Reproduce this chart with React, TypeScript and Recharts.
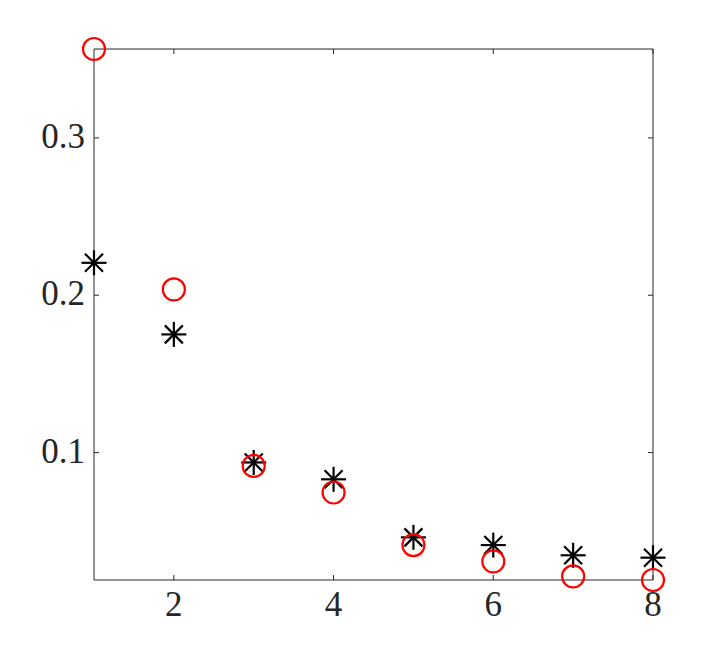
import React from "react";
import { ScatterChart, Scatter, XAxis, YAxis } from "recharts";

const xValues = [1, 2, 3, 4, 5, 6, 7, 8];
const circleValues = [0.3565, 0.2037, 0.0915, 0.0746, 0.0412, 0.0308, 0.0213, 0.019];
const starValues = [0.2206, 0.1751, 0.0937, 0.083, 0.0461, 0.0412, 0.0347, 0.0332];
const xTicks = [2, 4, 6, 8];
const yTicks = [0.1, 0.2, 0.3];

const circleData = xValues.map((x, i) => ({ x, y: circleValues[i] }));
const starData = xValues.map((x, i) => ({ x, y: starValues[i] }));

const allY = [...circleValues, ...starValues];
const yDomain = [Math.min(...allY), Math.max(...allY)];

const INK = "#262626";
const FONT = "'Liberation Serif', 'DejaVu Serif', serif";
const TICK = 5;

const BottomTick = (props: any) => {
  const { x, y, payload } = props;
  return (
    <g>
      <line x1={x} x2={x} y1={y} y2={y - TICK} stroke={INK} strokeWidth={1} />
      <text x={x} y={y + 36} textAnchor="middle" fontFamily={FONT} fontSize={35} fill={INK}>
        {payload.value}
      </text>
    </g>
  );
};

const LeftTick = (props: any) => {
  const { x, y, payload } = props;
  return (
    <g>
      <line x1={x} x2={x + TICK} y1={y} y2={y} stroke={INK} strokeWidth={1} />
      <text x={x - 9} y={y + 10} textAnchor="end" fontFamily={FONT} fontSize={35} fill={INK}>
        {payload.value}
      </text>
    </g>
  );
};

const TopTick = (props: any) => {
  const { x, y } = props;
  return <line x1={x} x2={x} y1={y} y2={y + TICK} stroke={INK} strokeWidth={1} />;
};

const RightTick = (props: any) => {
  const { x, y } = props;
  return <line x1={x} x2={x - TICK} y1={y} y2={y} stroke={INK} strokeWidth={1} />;
};

const Circle = (props: any) => {
  const { cx, cy } = props;
  return <circle cx={cx} cy={cy} r={11} fill="none" stroke="#ff0000" strokeWidth={2.2} />;
};

const Star = (props: any) => {
  const { cx, cy } = props;
  const a = 12.5;
  const d = 9;
  return (
    <g stroke="#000000" strokeWidth={2.2}>
      <line x1={cx - a} x2={cx + a} y1={cy} y2={cy} />
      <line x1={cx} x2={cx} y1={cy - a} y2={cy + a} />
      <line x1={cx - d} x2={cx + d} y1={cy - d} y2={cy + d} />
      <line x1={cx - d} x2={cx + d} y1={cy + d} y2={cy - d} />
    </g>
  );
};

const Nothing = () => <g />;

export default function App() {
  return (
    <div style={{ position: "absolute", left: 0, top: 0, background: "#fff" }}>
      <ScatterChart width={723} height={653} margin={{ top: 48, right: 69, bottom: 0, left: 0 }}>
        <XAxis
          xAxisId="bottom"
          dataKey="x"
          type="number"
          domain={[1, 8]}
          ticks={xTicks}
          height={73}
          tickSize={0}
          tickMargin={0}
          tickLine={false}
          axisLine={{ stroke: INK, strokeWidth: 1 }}
          tick={<BottomTick />}
        />
        <XAxis
          xAxisId="top"
          orientation="top"
          dataKey="x"
          type="number"
          domain={[1, 8]}
          ticks={xTicks}
          height={1}
          tickSize={0}
          tickMargin={0}
          tickLine={false}
          axisLine={{ stroke: INK, strokeWidth: 1 }}
          tick={<TopTick />}
        />
        <YAxis
          yAxisId="left"
          dataKey="y"
          type="number"
          domain={yDomain}
          ticks={yTicks}
          width={94}
          tickSize={0}
          tickMargin={0}
          tickLine={false}
          axisLine={{ stroke: INK, strokeWidth: 1 }}
          tick={<LeftTick />}
        />
        <YAxis
          yAxisId="right"
          orientation="right"
          dataKey="y"
          type="number"
          domain={yDomain}
          ticks={yTicks}
          width={1}
          tickSize={0}
          tickMargin={0}
          tickLine={false}
          axisLine={{ stroke: INK, strokeWidth: 1 }}
          tick={<RightTick />}
        />
        <Scatter
          data={circleData}
          xAxisId="top"
          yAxisId="right"
          shape={<Nothing />}
          isAnimationActive={false}
        />
        <Scatter
          data={starData}
          xAxisId="bottom"
          yAxisId="left"
          shape={<Star />}
          isAnimationActive={false}
        />
        <Scatter
          data={circleData}
          xAxisId="bottom"
          yAxisId="left"
          shape={<Circle />}
          isAnimationActive={false}
        />
      </ScatterChart>
    </div>
  );
}
